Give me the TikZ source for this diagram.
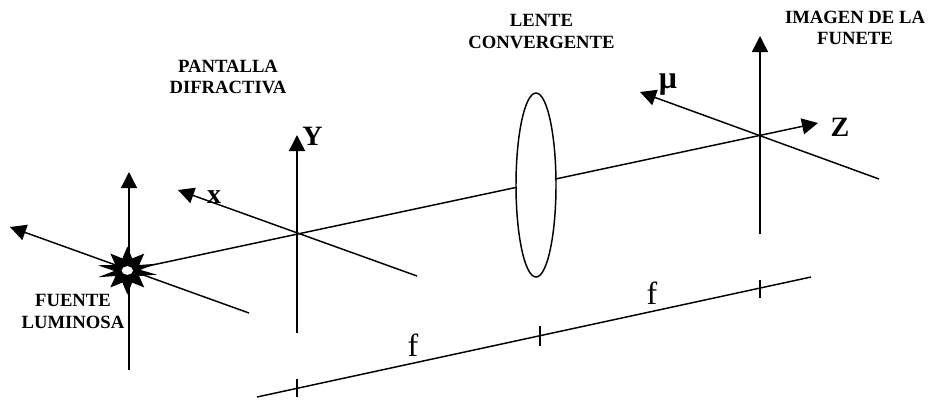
\documentclass[tikz,border=0pt]{standalone}
\usepackage{fontspec}
\setmainfont{Liberation Serif}
\usetikzlibrary{arrows.meta,shapes.geometric}
\tikzset{
 ln/.style={line width=1.1pt,black},
 arr/.style={ln,-{Stealth[length=12pt,width=12pt,inset=0pt]}},
 lab/.style={font=\bfseries\fontsize{14}{16.3}\selectfont,align=center,inner sep=0pt},
 big/.style={font=\fontsize{24}{26}\selectfont,inner sep=0pt},
 axl/.style={font=\bfseries\fontsize{21}{24}\selectfont,inner sep=0pt},
}
\begin{document}
\begin{tikzpicture}[x=0.75pt,y=-0.75pt]
\useasboundingbox (0,0) rectangle (928,401);
\coordinate (S) at (129,270);
\coordinate (Zt) at (818,123);
\draw[arr] (S) -- (Zt);
% source
\coordinate (s1) at (129,370);\coordinate (s2) at (129,172);
\draw[arr] (s1) -- (s2);
\coordinate (s3) at (249,313);\coordinate (s4) at (10,227);
\draw[arr] (s3) -- (s4);
% star burst (y axis points down: angles are mirrored)
\fill[black,shift={(127.3,270.5)}]
  (-90:24) -- (-68:13) -- (-45:24) -- (-25:13) -- (-13:30) -- (-3:13) -- (8:30) -- (25:13)
  -- (45:24) -- (68:13) -- (90:24) -- (112:13) -- (135:24) -- (155:13) -- (167:30)
  -- (178:13) -- (-170:30) -- (-155:13) -- (-135:24) -- (-112:13) -- cycle;
\node[ellipse,fill=white,minimum width=8.5pt,minimum height=6.5pt,inner sep=0pt] (c) at (127.3,270.5) {};
% screen
\coordinate (p1) at (297,333);\coordinate (p2) at (297,135);
\draw[arr] (p1) -- (p2);
\coordinate (p3) at (417,276);\coordinate (p4) at (178,190);
\draw[arr] (p3) -- (p4);
% lens
\node[ellipse,draw=black,line width=1.1pt,fill=white,minimum width=30pt,minimum height=138pt,inner sep=0pt] (lens) at (536,185) {};
% image
\coordinate (i1) at (760,234);\coordinate (i2) at (760,36);
\draw[arr] (i1) -- (i2);
\coordinate (i3) at (879,179);\coordinate (i4) at (640,92);
\draw[arr] (i3) -- (i4);
% baseline
\coordinate (b1) at (257,397);\coordinate (b2) at (811,277);
\draw[ln] (b1) -- (b2);
\coordinate (k1) at (297,379);\coordinate (k2) at (297,397);
\coordinate (k3) at (540,326);\coordinate (k4) at (540,346);
\coordinate (k5) at (760,280);\coordinate (k6) at (760,298);
\draw[ln] (k1) -- (k2);
\draw[ln] (k3) -- (k4);
\draw[ln] (k5) -- (k6);
% labels
\node[lab] (t1) at (228,77) {PANTALLA\\DIFRACTIVA};
\node[lab] (t2) at (541.5,31.5) {LENTE\\CONVERGENTE};
\node[lab] (t3) at (855,28) {IMAGEN DE LA\\FUNETE};
\node[lab] (t4) at (73,311.5) {FUENTE\\LUMINOSA};
\node[axl] (y) at (312.5,136) {Y};
\node[axl] (x) at (214,197) {x};
\node[axl] (z) at (840,127) {Z};
\node[axl,font=\bfseries\fontsize{24}{26}\selectfont] (mu) at (668,85) {μ};
\node[big] (f1) at (413,345) {f};
\node[big] (f2) at (652,293) {f};
\end{tikzpicture}
\end{document}
